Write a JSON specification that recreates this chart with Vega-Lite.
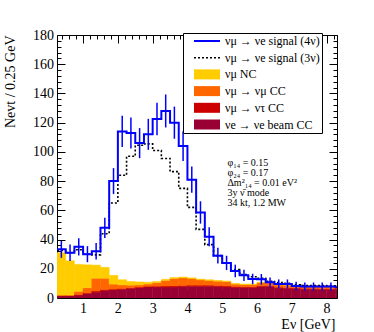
{
  "$schema": "https://vega.github.io/schema/vega-lite/v6.json",
  "width": 280,
  "height": 263,
  "autosize": {"type": "none"},
  "padding": {"left": 57, "top": 35, "right": 37, "bottom": 34},
  "background": "white",
  "config": {
    "view": {"stroke": null},
    "font": "Liberation Serif",
    "axis": {
      "grid": false,
      "domainColor": "black",
      "tickColor": "black",
      "labelColor": "black",
      "titleColor": "black",
      "labelFont": "Liberation Serif",
      "titleFont": "Liberation Serif",
      "labelFontSize": 14,
      "titleFontSize": 14,
      "titleFontWeight": "normal",
      "domainWidth": 1,
      "tickWidth": 1
    }
  },
  "datasets": {
    "bins": [
      {"lo": 0.25, "hi": 0.5, "ctr": 0.375, "bg1_beam": 1.5, "bg2_tau": 0.2, "bg3_numucc": 0.3, "bg4_nc": 29, "s4": 33.3, "s3": 32.5, "elo": 27.5, "ehi": 39.1},
      {"lo": 0.5, "hi": 0.75, "ctr": 0.625, "bg1_beam": 1.5, "bg2_tau": 0.2, "bg3_numucc": 0.3, "bg4_nc": 23.5, "s4": 31, "s3": 31, "elo": 25.4, "ehi": 36.6},
      {"lo": 0.75, "hi": 1.0, "ctr": 0.875, "bg1_beam": 2, "bg2_tau": 0.3, "bg3_numucc": 2.2, "bg4_nc": 18.5, "s4": 35, "s3": 33, "elo": 29.1, "ehi": 40.9},
      {"lo": 1.0, "hi": 1.25, "ctr": 1.125, "bg1_beam": 3, "bg2_tau": 0.5, "bg3_numucc": 3.5, "bg4_nc": 15.7, "s4": 30, "s3": 30, "elo": 24.5, "ehi": 35.5},
      {"lo": 1.25, "hi": 1.5, "ctr": 1.375, "bg1_beam": 4, "bg2_tau": 0.8, "bg3_numucc": 8.7, "bg4_nc": 9, "s4": 32, "s3": 29.5, "elo": 26.3, "ehi": 37.7},
      {"lo": 1.5, "hi": 1.75, "ctr": 1.625, "bg1_beam": 5, "bg2_tau": 0.8, "bg3_numucc": 7.7, "bg4_nc": 7.5, "s4": 48, "s3": 44, "elo": 41.1, "ehi": 54.9},
      {"lo": 1.75, "hi": 2.0, "ctr": 1.875, "bg1_beam": 5.5, "bg2_tau": 0.6, "bg3_numucc": 3.4, "bg4_nc": 6, "s4": 80, "s3": 65, "elo": 71.1, "ehi": 88.9},
      {"lo": 2.0, "hi": 2.25, "ctr": 2.125, "bg1_beam": 6, "bg2_tau": 0.5, "bg3_numucc": 2.5, "bg4_nc": 3.5, "s4": 114, "s3": 84, "elo": 103.3, "ehi": 124.7},
      {"lo": 2.25, "hi": 2.5, "ctr": 2.375, "bg1_beam": 6.5, "bg2_tau": 0.5, "bg3_numucc": 1.8, "bg4_nc": 2.5, "s4": 113, "s3": 97, "elo": 102.4, "ehi": 123.6},
      {"lo": 2.5, "hi": 2.75, "ctr": 2.625, "bg1_beam": 7, "bg2_tau": 0.5, "bg3_numucc": 1.5, "bg4_nc": 2, "s4": 106, "s3": 104.5, "elo": 95.7, "ehi": 116.3},
      {"lo": 2.75, "hi": 3.0, "ctr": 2.875, "bg1_beam": 7.5, "bg2_tau": 0.5, "bg3_numucc": 1.5, "bg4_nc": 1.3, "s4": 112, "s3": 105.5, "elo": 101.4, "ehi": 122.6},
      {"lo": 3.0, "hi": 3.25, "ctr": 3.125, "bg1_beam": 7.5, "bg2_tau": 0.6, "bg3_numucc": 2.4, "bg4_nc": 0.8, "s4": 122.5, "s3": 101, "elo": 111.4, "ehi": 133.6},
      {"lo": 3.25, "hi": 3.5, "ctr": 3.375, "bg1_beam": 7.5, "bg2_tau": 0.7, "bg3_numucc": 3.8, "bg4_nc": 0.8, "s4": 128, "s3": 95.5, "elo": 116.7, "ehi": 139.3},
      {"lo": 3.5, "hi": 3.75, "ctr": 3.625, "bg1_beam": 7.5, "bg2_tau": 0.8, "bg3_numucc": 5, "bg4_nc": 0.7, "s4": 120, "s3": 86.5, "elo": 109, "ehi": 131},
      {"lo": 3.75, "hi": 4.0, "ctr": 3.875, "bg1_beam": 7.8, "bg2_tau": 0.8, "bg3_numucc": 5.2, "bg4_nc": 0.5, "s4": 104, "s3": 75, "elo": 93.8, "ehi": 114.2},
      {"lo": 4.0, "hi": 4.25, "ctr": 4.125, "bg1_beam": 8, "bg2_tau": 0.8, "bg3_numucc": 4.5, "bg4_nc": 0.5, "s4": 81, "s3": 62, "elo": 72, "ehi": 90},
      {"lo": 4.25, "hi": 4.5, "ctr": 4.375, "bg1_beam": 8, "bg2_tau": 0.8, "bg3_numucc": 3.7, "bg4_nc": 0.4, "s4": 58.5, "s3": 47, "elo": 50.9, "ehi": 66.2},
      {"lo": 4.5, "hi": 4.75, "ctr": 4.625, "bg1_beam": 8, "bg2_tau": 0.8, "bg3_numucc": 3.2, "bg4_nc": 0.5, "s4": 42, "s3": 36.5, "elo": 35.5, "ehi": 48.5},
      {"lo": 4.75, "hi": 5.0, "ctr": 4.875, "bg1_beam": 7.8, "bg2_tau": 0.8, "bg3_numucc": 2.9, "bg4_nc": 0.5, "s4": 29, "s3": 29, "elo": 23.6, "ehi": 34.4},
      {"lo": 5.0, "hi": 5.25, "ctr": 5.125, "bg1_beam": 7.5, "bg2_tau": 0.8, "bg3_numucc": 2.9, "bg4_nc": 0.4, "s4": 24, "s3": 24, "elo": 19.1, "ehi": 28.9},
      {"lo": 5.25, "hi": 5.5, "ctr": 5.375, "bg1_beam": 7.2, "bg2_tau": 0.7, "bg3_numucc": 1.6, "bg4_nc": 0.4, "s4": 18.5, "s3": 19.5, "elo": 14.2, "ehi": 22.8},
      {"lo": 5.5, "hi": 5.75, "ctr": 5.625, "bg1_beam": 7, "bg2_tau": 0.7, "bg3_numucc": 1.5, "bg4_nc": 0.4, "s4": 15.5, "s3": 16, "elo": 11.6, "ehi": 19.4},
      {"lo": 5.75, "hi": 6.0, "ctr": 5.875, "bg1_beam": 7, "bg2_tau": 0.7, "bg3_numucc": 1.5, "bg4_nc": 0.4, "s4": 13, "s3": 14.5, "elo": 9.4, "ehi": 16.6},
      {"lo": 6.0, "hi": 6.25, "ctr": 6.125, "bg1_beam": 7.8, "bg2_tau": 0.6, "bg3_numucc": 2.1, "bg4_nc": 0.3, "s4": 12.8, "s3": 13.5, "elo": 9.2, "ehi": 16.4},
      {"lo": 6.25, "hi": 6.5, "ctr": 6.375, "bg1_beam": 7.8, "bg2_tau": 0.6, "bg3_numucc": 2.1, "bg4_nc": 0.3, "s4": 10.7, "s3": 11.5, "elo": 7.4, "ehi": 14},
      {"lo": 6.5, "hi": 6.75, "ctr": 6.625, "bg1_beam": 6.8, "bg2_tau": 0.6, "bg3_numucc": 1.6, "bg4_nc": 0.3, "s4": 9.6, "s3": 10.5, "elo": 6.5, "ehi": 12.7},
      {"lo": 6.75, "hi": 7.0, "ctr": 6.875, "bg1_beam": 6.5, "bg2_tau": 0.6, "bg3_numucc": 1.7, "bg4_nc": 0.3, "s4": 9.6, "s3": 10, "elo": 6.5, "ehi": 12.7},
      {"lo": 7.0, "hi": 7.25, "ctr": 7.125, "bg1_beam": 6.3, "bg2_tau": 0.6, "bg3_numucc": 1.6, "bg4_nc": 0.3, "s4": 8.2, "s3": 9, "elo": 5.3, "ehi": 11.1},
      {"lo": 7.25, "hi": 7.5, "ctr": 7.375, "bg1_beam": 6, "bg2_tau": 0.6, "bg3_numucc": 1.7, "bg4_nc": 0.3, "s4": 7.8, "s3": 8.5, "elo": 5, "ehi": 10.6},
      {"lo": 7.5, "hi": 7.75, "ctr": 7.625, "bg1_beam": 6, "bg2_tau": 0.5, "bg3_numucc": 1.7, "bg4_nc": 0.3, "s4": 7.8, "s3": 8.5, "elo": 5, "ehi": 10.6},
      {"lo": 7.75, "hi": 8.0, "ctr": 7.875, "bg1_beam": 5.8, "bg2_tau": 0.5, "bg3_numucc": 1.7, "bg4_nc": 0.3, "s4": 7.8, "s3": 8.5, "elo": 5, "ehi": 10.6},
      {"lo": 8.0, "hi": 8.25, "ctr": 8.125, "bg1_beam": 5.8, "bg2_tau": 0.5, "bg3_numucc": 1.7, "bg4_nc": 0.3, "s4": 7.8, "s3": 8.3, "elo": 5, "ehi": 10.6},
      {"lo": 8.25, "hi": 8.5, "ctr": 8.375, "bg1_beam": 6, "bg2_tau": 0.5, "bg3_numucc": 1.5, "bg4_nc": 0.3, "s4": 7.3, "s3": 8, "elo": 4.6, "ehi": 10},
      {"lo": 8.5, "s4": 7.3, "s3": 8}
    ]
  },
  "data": {"name": "bins"},
  "resolve": {"axis": {"x": "independent", "y": "independent"}},
  "layer": [
    {
      "transform": [
        {"filter": "datum.hi != null"},
        {"fold": ["bg1_beam", "bg2_tau", "bg3_numucc", "bg4_nc"], "as": ["comp", "n"]},
        {"stack": "n", "groupby": ["lo"], "sort": [{"field": "comp", "order": "ascending"}], "as": ["n0", "n1"]}
      ],
      "mark": {"type": "bar", "clip": true, "strokeWidth": 0.5},
      "encoding": {
        "x": {
          "field": "lo", "type": "quantitative",
          "scale": {"domain": [0.25, 8.3], "nice": false, "zero": false},
          "axis": {
            "orient": "bottom", "values": [1, 2, 3, 4, 5, 6, 7, 8], "format": "d",
            "tickSize": -8, "labelPadding": 11, "labelFlush": false, "labelOverlap": false,
            "title": "Eν [GeV]", "titleAnchor": "end", "titleAlign": "right",
            "titleX": 278, "titleY": 26, "titleBaseline": "middle"
          }
        },
        "x2": {"field": "hi"},
        "y": {
          "field": "n0", "type": "quantitative",
          "scale": {"domain": [0, 180], "nice": false},
          "axis": {
            "orient": "left", "values": [0, 20, 40, 60, 80, 100, 120, 140, 160, 180], "format": "d",
            "tickSize": -8, "labelPadding": 11.5, "labelFlush": false, "labelOverlap": false,
            "title": "Nevt / 0.25 GeV", "titleAnchor": "end", "titleAlign": "right",
            "titleX": -43, "titleY": 0, "titleBaseline": "alphabetic"
          }
        },
        "y2": {"field": "n1"},
        "color": {
          "field": "comp", "type": "nominal",
          "scale": {
            "domain": ["s4", "s3", "bg4_nc", "bg3_numucc", "bg2_tau", "bg1_beam"],
            "range": ["#0000ff", "#000000", "#ffcc00", "#ff6600", "#cc0000", "#990033"]
          },
          "legend": {
            "orient": "none", "legendX": 126, "legendY": -2,
            "title": null,
            "strokeColor": "black", "fillColor": "white", "padding": 2,
            "symbolSize": 100, "symbolOffset": 16, "labelOffset": 12,
            "rowPadding": 4.7,
            "labelFont": "Liberation Serif", "labelFontSize": 12, "labelColor": "black",
            "labelLimit": 300,
            "labelExpr": "datum.value == 's4' ? 'νμ → νe signal (4ν)' : datum.value == 's3' ? 'νμ → νe signal (3ν)' : datum.value == 'bg4_nc' ? 'νμ NC' : datum.value == 'bg3_numucc' ? 'νμ → νμ CC' : datum.value == 'bg2_tau' ? 'νμ → ντ CC' : 'νe → νe beam CC'",
            "encode": {
              "symbols": {
                "update": {
                  "shape": {"signal": "(datum.value == 's4' || datum.value == 's3') ? 'M-2.6,0H2.6' : 'M-2.6,-1H2.6V1H-2.6Z'"},
                  "fill": {"signal": "(datum.value == 's4' || datum.value == 's3') ? 'transparent' : scale('color', datum.value)"},
                  "stroke": {"signal": "scale('color', datum.value)"},
                  "strokeWidth": {"signal": "datum.value == 's4' ? 2 : datum.value == 's3' ? 1.5 : 0"},
                  "strokeDash": {"signal": "datum.value == 's3' ? [2, 2] : [1, 0]"},
                  "opacity": {"value": 1}
                }
              }
            }
          }
        },
        "stroke": {
          "field": "comp", "type": "nominal",
          "scale": {
            "domain": ["s4", "s3", "bg4_nc", "bg3_numucc", "bg2_tau", "bg1_beam"],
            "range": ["#0000ff", "#000000", "#ffcc00", "#ff6600", "#cc0000", "#990033"]
          },
          "legend": null
        }
      }
    },
    {
      "mark": {"type": "line", "interpolate": "step-after", "color": "black", "strokeWidth": 1.6, "strokeDash": [2, 2], "clip": true},
      "encoding": {
        "x": {
          "field": "lo", "type": "quantitative",
          "scale": {"domain": [0.25, 8.3], "nice": false, "zero": false},
          "axis": {
            "orient": "bottom", "domain": false, "labels": false, "title": null, "tickSize": -4,
            "values": [0.4, 0.6, 0.8, 1.2, 1.4, 1.6, 1.8, 2.2, 2.4, 2.6, 2.8, 3.2, 3.4, 3.6, 3.8, 4.2, 4.4, 4.6, 4.8, 5.2, 5.4, 5.6, 5.8, 6.2, 6.4, 6.6, 6.8, 7.2, 7.4, 7.6, 7.8, 8.2]
          }
        },
        "y": {
          "field": "s3", "type": "quantitative",
          "scale": {"domain": [0, 180], "nice": false},
          "axis": {
            "orient": "left", "domain": false, "labels": false, "title": null, "tickSize": -4,
            "values": [4, 8, 12, 16, 24, 28, 32, 36, 44, 48, 52, 56, 64, 68, 72, 76, 84, 88, 92, 96, 104, 108, 112, 116, 124, 128, 132, 136, 144, 148, 152, 156, 164, 168, 172, 176]
          }
        }
      }
    },
    {
      "mark": {"type": "line", "interpolate": "step-after", "color": "#0000ff", "strokeWidth": 2, "clip": true},
      "encoding": {
        "x": {
          "field": "lo", "type": "quantitative",
          "scale": {"domain": [0.25, 8.3], "nice": false, "zero": false},
          "axis": {"orient": "top", "labels": false, "title": null, "tickSize": -8, "values": [1, 2, 3, 4, 5, 6, 7, 8]}
        },
        "y": {
          "field": "s4", "type": "quantitative",
          "scale": {"domain": [0, 180], "nice": false},
          "axis": {"orient": "right", "labels": false, "title": null, "tickSize": -8, "values": [0, 20, 40, 60, 80, 100, 120, 140, 160, 180]}
        }
      }
    },
    {
      "mark": {"type": "rule", "color": "#0000ff", "strokeWidth": 1.5, "clip": true},
      "encoding": {
        "x": {
          "field": "ctr", "type": "quantitative",
          "scale": {"domain": [0.25, 8.3], "nice": false, "zero": false},
          "axis": {
            "orient": "top", "domain": false, "labels": false, "title": null, "tickSize": -4,
            "values": [0.4, 0.6, 0.8, 1.2, 1.4, 1.6, 1.8, 2.2, 2.4, 2.6, 2.8, 3.2, 3.4, 3.6, 3.8, 4.2, 4.4, 4.6, 4.8, 5.2, 5.4, 5.6, 5.8, 6.2, 6.4, 6.6, 6.8, 7.2, 7.4, 7.6, 7.8, 8.2]
          }
        },
        "y": {
          "field": "elo", "type": "quantitative",
          "scale": {"domain": [0, 180], "nice": false},
          "axis": {
            "orient": "right", "domain": false, "labels": false, "title": null, "tickSize": -4,
            "values": [4, 8, 12, 16, 24, 28, 32, 36, 44, 48, 52, 56, 64, 68, 72, 76, 84, 88, 92, 96, 104, 108, 112, 116, 124, 128, 132, 136, 144, 148, 152, 156, 164, 168, 172, 176]
          }
        },
        "y2": {"field": "ehi"}
      }
    },
    {
      "data": {"values": [{}]},
      "mark": {"type": "text", "align": "left", "baseline": "top", "font": "Liberation Serif", "fontSize": 10, "lineHeight": 9.8, "color": "black"},
      "encoding": {
        "x": {"datum": 5.15, "type": "quantitative", "axis": null},
        "y": {"datum": 95.5, "type": "quantitative", "axis": null},
        "text": {"value": ["φ₁₄ = 0.15", "φ₂₄ = 0.17", "Δm²₁₄ = 0.01 eV²", "3y ν̄ mode", "34 kt, 1.2 MW"]}
      }
    }
  ]
}
